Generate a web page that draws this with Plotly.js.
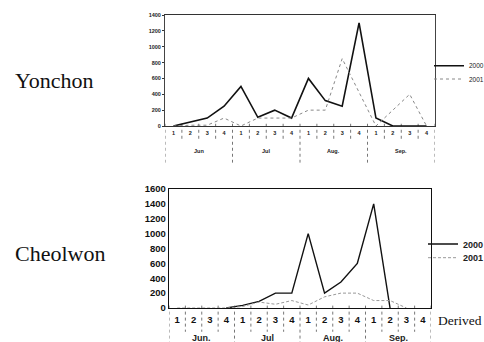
<!DOCTYPE html>
<html><head><meta charset="utf-8">
<script src="https://cdn.plot.ly/plotly-3.0.1.min.js"></script>
<style>html,body{margin:0;padding:0;background:#fff;overflow:hidden}#chart{width:484px;height:342px}</style>
</head><body><div id="chart"></div>
<script>
// ---- data ----
const weekLabels = ['1','2','3','4','1','2','3','4','1','2','3','4','1','2','3','4'];
const monthsTop = ['Jun','Jul','Aug.','Sep.'];
const monthsBottom = ['Jun.','Jul','Aug.','Sep.'];
const seriesNames = ['2000','2001'];
const stations = ['Yonchon','Cheolwon'];
const yonchon2000 = [0,50,100,250,500,110,200,100,600,320,250,1300,100,0,0,0];
const yonchon2001 = [0,10,10,100,0,100,100,100,200,200,850,420,0,200,400,0];
const cheolwon2000 = [null,null,null,0,35,90,200,200,1000,200,350,600,1400,0,null,null];
const cheolwon2001 = [0,0,0,0,20,80,50,100,40,150,200,200,100,100,0,null];
const sourceNote = 'Derived';

// ---- helpers ----
const W = 484, H = 342;
const px = x => x / W;
const py = y => 1 - y / H;
const weekIdx = weekLabels.map((_, i) => i);
const monthCenters = [0,1,2,3].map(m => m * 4 + 1.5);

const traces = [
  {x: weekIdx, y: yonchon2000, name: seriesNames[0], xaxis: 'x', yaxis: 'y', mode: 'lines',
   line: {color: '#111', width: 1.6}, legend: 'legend'},
  {x: weekIdx, y: yonchon2001, name: seriesNames[1], xaxis: 'x', yaxis: 'y', mode: 'lines',
   line: {color: '#888', width: 1, dash: 'dot'}, legend: 'legend2'},
  {x: weekIdx, y: cheolwon2000, name: seriesNames[0], xaxis: 'x2', yaxis: 'y2', mode: 'lines',
   line: {color: '#111', width: 1.4}, legend: 'legend3'},
  {x: weekIdx, y: cheolwon2001, name: seriesNames[1], xaxis: 'x2', yaxis: 'y2', mode: 'lines',
   line: {color: '#999', width: 1, dash: '3px,2px'}, legend: 'legend4'}
];

const sepStyle = {color: '#777', width: 1, dash: 'dot'};
const shapes = [];
function addSeparators(xref, yref, wk0, wk1, mo1) {
  for (let b = -0.5; b <= 15.5; b += 1) {
    const isMonth = Math.abs(((b + 0.5) % 4)) < 1e-9;
    shapes.push({type: 'line', xref: xref, yref: yref, x0: b, x1: b,
      y0: wk0, y1: isMonth ? mo1 : wk1, line: sepStyle, layer: 'below'});
  }
}
addSeparators('x', 'y domain', 0.02, -0.14, -0.33);
addSeparators('x2', 'y2 domain', 0.02, -0.2, -0.3);

const annotations = [];
monthsTop.forEach((m, i) => annotations.push({xref: 'x', yref: 'paper', x: monthCenters[i], y: py(151),
  text: m, showarrow: false, font: {family: 'Arial', size: 5.5, color: '#222', weight: 'bold'}, yanchor: 'middle'}));
monthsBottom.forEach((m, i) => annotations.push({xref: 'x2', yref: 'paper', x: monthCenters[i], y: py(337.5),
  text: m, showarrow: false, font: {family: 'Arial', size: 9, color: '#222', weight: 'bold'}, yanchor: 'middle'}));
annotations.push({xref: 'paper', yref: 'paper', x: px(13), y: py(80), xanchor: 'left', yanchor: 'middle',
  text: stations[0], showarrow: false, font: {family: 'Liberation Serif', size: 22, color: '#111'}});
annotations.push({xref: 'paper', yref: 'paper', x: px(13), y: py(253), xanchor: 'left', yanchor: 'middle',
  text: stations[1], showarrow: false, font: {family: 'Liberation Serif', size: 22, color: '#111'}});
annotations.push({xref: 'paper', yref: 'paper', x: px(436), y: py(320), xanchor: 'left', yanchor: 'middle',
  text: sourceNote, showarrow: false, font: {family: 'Liberation Serif', size: 13.5, color: '#111'}});

const axBase = {showgrid: false, zeroline: false, showline: true, mirror: true, fixedrange: true};
const legBase = (x, y, size, weight) => ({x: px(x), y: py(y), xanchor: 'left', yanchor: 'middle',
  bgcolor: 'rgba(0,0,0,0)', borderwidth: 0, font: {family: 'Arial', size: size, color: '#222', weight: weight}});

const layout = {
  width: W, height: H,
  margin: {l: 0, r: 0, t: 0, b: 0, autoexpand: false},
  paper_bgcolor: '#fff', plot_bgcolor: '#fff',
  showlegend: true,
  xaxis: Object.assign({}, axBase, {domain: [px(165), px(435)], range: [-0.5, 15.5], anchor: 'y',
    tickvals: weekIdx, ticktext: weekLabels, ticks: '', linecolor: '#333', linewidth: 1, ticklabelstandoff: 1,
    tickfont: {family: 'Arial', size: 5.5, color: '#222', weight: 'bold'}}),
  yaxis: Object.assign({}, axBase, {domain: [py(126), py(15)], range: [0, 1400], dtick: 200, anchor: 'x',
    ticks: 'outside', ticklen: 2, tickcolor: '#333', linecolor: '#444', linewidth: 1,
    tickfont: {family: 'Arial', size: 5.5, color: '#222', weight: 'bold'}}),
  xaxis2: Object.assign({}, axBase, {domain: [px(169), px(431)], range: [-0.5, 15.5], anchor: 'y2',
    tickvals: weekIdx, ticktext: weekLabels, ticks: '', linecolor: '#111', linewidth: 1, ticklabelstandoff: 3,
    tickfont: {family: 'Arial', size: 9.5, color: '#111', weight: 'bold'}}),
  yaxis2: Object.assign({}, axBase, {domain: [py(308), py(189)], range: [0, 1600], dtick: 200, anchor: 'x2',
    ticks: '', linecolor: '#111', linewidth: 1.3,
    tickfont: {family: 'Arial', size: 9.5, color: '#111', weight: 'bold'}}),
  legend: legBase(429, 65.7, 6.5, 'normal'),
  legend2: legBase(429, 79, 6.5, 'normal'),
  legend3: legBase(423, 244, 9, 'bold'),
  legend4: legBase(423, 257.7, 9, 'bold'),
  shapes: shapes,
  annotations: annotations
};

Plotly.newPlot('chart', traces, layout, {displayModeBar: false, staticPlot: true});
</script>
</body></html>
